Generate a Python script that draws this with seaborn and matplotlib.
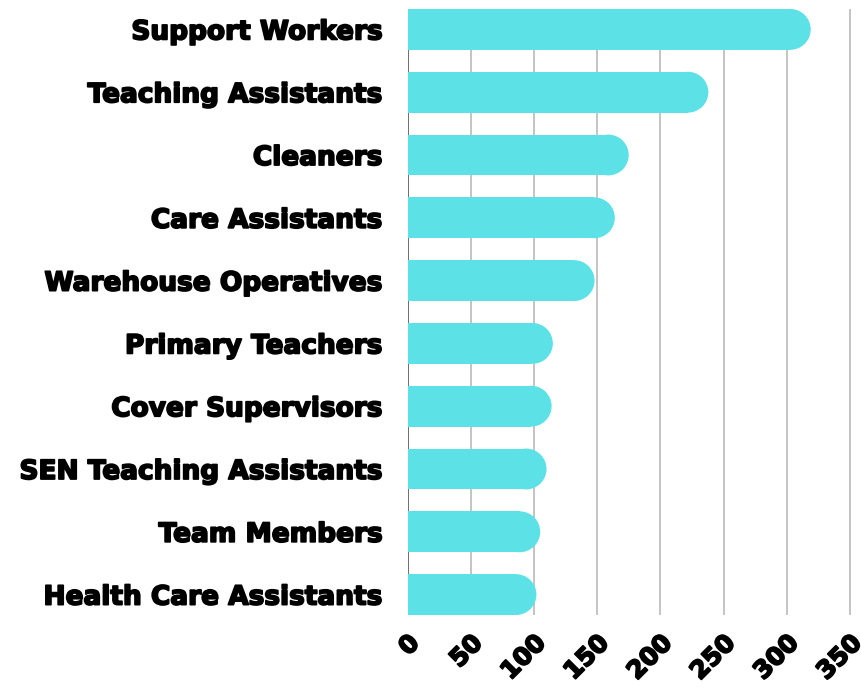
import matplotlib
matplotlib.use("Agg")
import matplotlib.pyplot as plt
import matplotlib.transforms as mtransforms
import matplotlib.patheffects as pe
from matplotlib import font_manager as fm
from matplotlib.patches import Ellipse
import seaborn as sns
import pandas as pd

categories = ["Support Workers", "Teaching Assistants", "Cleaners", "Care Assistants",
              "Warehouse Operatives", "Primary Teachers", "Cover Supervisors",
              "SEN Teaching Assistants", "Team Members", "Health Care Assistants"]
values = [319, 238, 175, 164, 148, 115, 114, 110, 105, 102]
tick_values = [0, 50, 100, 150, 200, 250, 300, 350]

df = pd.DataFrame({"job": categories, "count": values})

sns.set_theme(style="white")
plt.rcParams['font.family'] = ['DejaVu Sans']

LABEL_FP = fm.FontProperties(family="DejaVu Sans", weight="bold", size=19.0)
TICK_FP = fm.FontProperties(family="DejaVu Sans", weight="bold", size=17.8)
HEAVY = [pe.withStroke(linewidth=1.3, foreground="black")]

BAR = "#5CE1E6"
fig = plt.figure(figsize=(8.61, 6.88), dpi=100)
ax = fig.add_axes([407.5 / 861, 1 - 615 / 688, 1 - 407.5 / 861, (615 - 9) / 688])

bh = 0.65
sns.barplot(data=df, y="job", x="count", orient="h", color=BAR, width=bh,
            saturation=1, linewidth=0, edgecolor="none", ax=ax, zorder=3)

ax.set_xlim(0, 453.5 / 1.264)
ax.set_ylim(len(categories) - 1 + bh / 2, -bh / 2)

fig.canvas.draw()
# round right ends: shorten rectangles and add circular caps
px_per_x = ax.transData.transform((1, 0))[0] - ax.transData.transform((0, 0))[0]
px_per_y = abs(ax.transData.transform((0, 1))[1] - ax.transData.transform((0, 0))[1])
for p in list(ax.patches):
    w = p.get_width()
    y0 = p.get_y()
    h = p.get_height()
    r_px = h * px_per_y / 2
    rx = r_px / px_per_x
    p.set_width(w - rx)
    ax.add_patch(Ellipse((w - rx, y0 + h / 2), 2 * rx, h, facecolor=BAR,
                         edgecolor="none", linewidth=0, zorder=3))

for v in tick_values[1:]:
    ax.axvline(v, color="#c4c4c4", lw=1.4, zorder=1)
ax.axvline(0, color="#555555", lw=1.2, zorder=2)

for s in ax.spines.values():
    s.set_visible(False)

ax.set_xticks(tick_values)
ax.set_xticklabels([str(t) for t in tick_values])
ax.set_xlabel("")
ax.set_ylabel("")
ax.tick_params(axis="x", length=0, pad=17.5)
ax.tick_params(axis="y", length=0, pad=18)
for lab in ax.get_yticklabels():
    lab.set_fontproperties(LABEL_FP)
    lab.set_color("black")
    lab.set_path_effects(HEAVY)
offset = mtransforms.ScaledTranslation(8 / 100, 0, fig.dpi_scale_trans)
for lab in ax.get_xticklabels():
    lab.set_fontproperties(TICK_FP)
    lab.set_color("black")
    lab.set_path_effects(HEAVY)
    lab.set_rotation(45)
    lab.set_ha("right")
    lab.set_va("center")
    lab.set_rotation_mode("anchor")
    lab.set_transform(lab.get_transform() + offset)

fig.savefig("out.png", dpi=100, facecolor="white")
